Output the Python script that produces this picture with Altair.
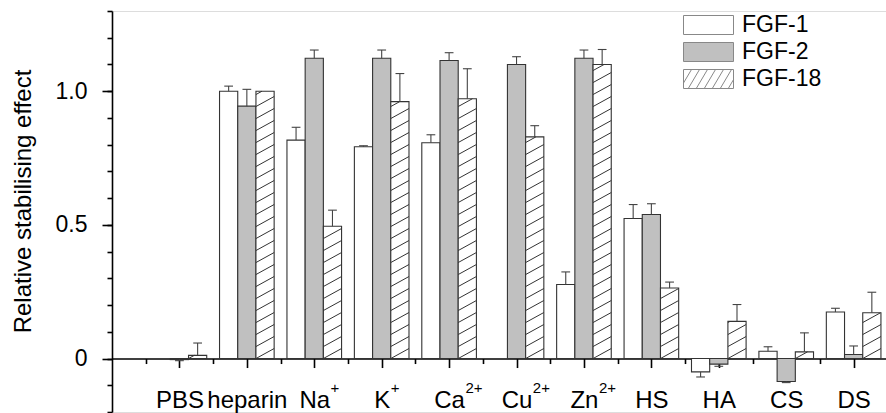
import json
import math

import altair as alt
import pandas as pd

# ---- data -----------------------------------------------------------------
categories = ["PBS", "heparin", "Na", "K", "Ca", "Cu", "Zn", "HS", "HA", "CS", "DS"]
charges = ["", "", "+", "+", "2+", "2+", "2+", "", "", "", ""]
series = ["FGF-1", "FGF-2", "FGF-18"]

fgf1 = [None, 1.000, 0.817, 0.792, 0.807, None, 0.277, 0.524, -0.050, 0.027, 0.174]
fgf1_err = [None, 0.019, 0.048, 0.004, 0.030, None, 0.047, 0.052, 0.019, 0.017, 0.014]
fgf2 = [-0.004, 0.944, 1.123, 1.123, 1.115, 1.100, 1.123, 0.539, -0.021, -0.086, 0.015]
fgf2_err = [0.004, 0.063, 0.031, 0.031, 0.029, 0.029, 0.031, 0.040, 0.008, 0.004, 0.032]
fgf18 = [0.012, 1.000, 0.495, 0.961, 0.972, 0.829, 1.100, 0.264, 0.139, 0.025, 0.171]
fgf18_err = [0.046, 0.0, 0.060, 0.105, 0.112, 0.042, 0.056, 0.022, 0.063, 0.071, 0.077]

# ---- geometry ---------------------------------------------------------------
WIDTH, HEIGHT = 774, 401
X_DOMAIN = [0, 11.48]
Y_DOMAIN = [-0.2, 1.3]
PX_X = WIDTH / (X_DOMAIN[1] - X_DOMAIN[0])
PX_Y = HEIGHT / (Y_DOMAIN[1] - Y_DOMAIN[0])
ZERO_OFFSET = -(Y_DOMAIN[0] * -PX_Y)  # axis pulled up to the y = 0 line
BAR_W = 0.27
CAP_W = 0.13
FONT = "Liberation Sans"

values = {"FGF-1": (fgf1, fgf1_err), "FGF-2": (fgf2, fgf2_err), "FGF-18": (fgf18, fgf18_err)}

rows = []
for i, cat in enumerate(categories):
    for j, name in enumerate(series):
        v, e = values[name][0][i], values[name][1][i]
        if v is None:
            continue
        c = i + 1 + (j - 1) * BAR_W
        sign = 1 if v >= 0 else -1
        rows.append(dict(category=cat, series=name, x0=c - BAR_W / 2, x1=c + BAR_W / 2,
                         xc=c, value=v, err=e, tip=v + sign * e,
                         cap0=c - CAP_W / 2, cap1=c + CAP_W / 2))
bars = pd.DataFrame(rows)
errs = bars[bars["err"] > 0]

# diagonal hatching for the FGF-18 bars, worked out in pixels then mapped back
SLOPE, GAP = 0.55, 12.0
hatch = []
for _, r in bars[bars["series"] == "FGF-18"].iterrows():
    w = BAR_W * PX_X
    h = r["value"] * PX_Y
    k = math.floor(-SLOPE * w / GAP)
    while k * GAP < h:
        c = k * GAP
        xa = max(0.0, -c / SLOPE)
        xb = min(w, (h - c) / SLOPE)
        if xb > xa:
            hatch.append(dict(hx0=r["x0"] + xa / PX_X, hy0=(SLOPE * xa + c) / PX_Y,
                              hx1=r["x0"] + xb / PX_X, hy1=(SLOPE * xb + c) / PX_Y))
        k += 1
hatch = pd.DataFrame(hatch)

# superscript charges sit just right of each centred label
ADV = {"N": .722, "a": .556, "K": .667, "C": .722, "u": .556, "Z": .611, "n": .556}
LABEL_SIZE = 24
sup = pd.DataFrame([
    dict(sx=i + 1 + (sum(ADV[ch] for ch in cat) * LABEL_SIZE / 2 + 1) / PX_X, charge=q)
    for i, (cat, q) in enumerate(zip(categories, charges)) if q
])

# legend symbols: plain boxes, and a box with hatching
BOX = "M-1,-0.38H1V0.38H-1Z"
hatch_path = BOX
a = -1.45
while a < 1:
    t0 = max(0.0, (-1 - a) / 0.45)
    t1 = min(1.0, (1 - a) / 0.45)
    if t1 > t0:
        hatch_path += (f"M{a + 0.45 * t0:.3f},{0.38 - 0.76 * t0:.3f}"
                       f"L{a + 0.45 * t1:.3f},{0.38 - 0.76 * t1:.3f}")
    a += 0.32

# ---- scales & axes --------------------------------------------------------
xs = alt.Scale(domain=X_DOMAIN, nice=False, zero=False)
ys = alt.Scale(domain=Y_DOMAIN, nice=False, zero=False)
fill_scale = alt.Scale(domain=series, range=["#ffffff", "#c0c0c0", "#ffffff"])
shape_scale = alt.Scale(domain=series, range=[BOX, BOX, hatch_path])

x_major = alt.Axis(
    values=list(range(1, len(categories) + 1)),
    labelExpr=f"{json.dumps([''] + categories)}[datum.value]",
    orient="bottom", offset=ZERO_OFFSET, title=None, grid=False,
    tickSize=9, tickWidth=1.6, tickColor="black", domainColor="black", domainWidth=1.6,
    labelFont=FONT, labelFontSize=LABEL_SIZE, labelColor="black", labelPadding=21,
    labelFlush=False, labelOverlap=False,
)
x_minor = alt.Axis(
    values=[i + 0.5 for i in range(len(categories) + 1)],
    orient="bottom", offset=ZERO_OFFSET, title=None, grid=False, labels=False,
    domain=False, tickSize=5, tickWidth=1.6, tickColor="black",
)
y_major = alt.Axis(
    values=[0, 0.5, 1.0], orient="left", grid=False,
    labelExpr="datum.value == 0 ? '0' : format(datum.value, '.1f')",
    tickSize=10, tickWidth=1.6, tickColor="black", domainColor="black", domainWidth=1.6,
    labelFont=FONT, labelFontSize=23, labelColor="black", labelPadding=15,
    title="Relative stabilising effect", titleFont=FONT, titleFontSize=24,
    titleFontWeight="normal", titleColor="black", titleX=-89, titleY=190,
    titleBaseline="middle", titleAngle=-90,
)
y_minor = alt.Axis(
    values=[round(-0.2 + 0.1 * i, 1) for i in range(16)], orient="left",
    grid=False, labels=False, domain=False, title=None,
    tickSize=5, tickWidth=1.6, tickColor="black",
)

legend = alt.Legend(
    title=None, orient="none", legendX=571, legendY=4, padding=0,
    clipHeight=20, rowPadding=4, labelOffset=8, symbolSize=2500,
    symbolStrokeColor="#888888", symbolStrokeWidth=1,
    labelFont=FONT, labelFontSize=23, labelColor="black",
)

# ---- layers ---------------------------------------------------------------
bar_layer = alt.Chart(bars).mark_rect(stroke="#333333", strokeWidth=1.1).encode(
    x=alt.X("x0:Q", scale=xs, axis=x_major),
    x2="x1:Q",
    y=alt.Y("value:Q", scale=ys, axis=y_major),
    y2=alt.Y2(datum=0),
    fill=alt.Fill("series:N", scale=fill_scale, legend=legend),
)

hatch_layer = alt.Chart(hatch).mark_rule(color="#333333", strokeWidth=1).encode(
    x=alt.X("hx0:Q", scale=xs, axis=None),
    x2="hx1:Q",
    y=alt.Y("hy0:Q", scale=ys, axis=None),
    y2="hy1:Q",
)

stem_layer = alt.Chart(errs).mark_rule(color="#444444", strokeWidth=1.1).encode(
    x=alt.X("xc:Q", scale=xs, axis=x_minor),
    y=alt.Y("value:Q", scale=ys, axis=y_minor),
    y2="tip:Q",
)

cap_layer = alt.Chart(errs).mark_rule(color="#444444", strokeWidth=1.1).encode(
    x=alt.X("cap0:Q", scale=xs, axis=None),
    x2="cap1:Q",
    y=alt.Y("tip:Q", scale=ys, axis=None),
)

sup_layer = alt.Chart(sup).mark_text(
    font=FONT, fontSize=15, color="black", align="left", baseline="alphabetic", dy=34,
).encode(
    x=alt.X("sx:Q", scale=xs, axis=None),
    y=alt.Y(datum=0, scale=ys, axis=None),
    text="charge:N",
)

# carries the shape scale so the legend shows the hatched swatch
key_layer = alt.Chart(bars).mark_point(filled=True, opacity=1).encode(
    x=alt.X("xc:Q", scale=xs, axis=None),
    y=alt.Y("value:Q", scale=ys, axis=None),
    fill=alt.Fill("series:N", scale=fill_scale, legend=legend),
    shape=alt.Shape("series:N", scale=shape_scale, legend=legend),
).transform_filter("datum.series == 'none'")

chart = alt.layer(
    bar_layer, hatch_layer, stem_layer, cap_layer, sup_layer, key_layer
).resolve_axis(
    x="independent", y="independent"
).properties(
    width=WIDTH, height=HEIGHT,
    autosize=alt.AutoSizeParams(type="none"),
    padding={"left": 112, "top": 11, "right": 0, "bottom": 1},
).configure_view(stroke=None).configure(background="white")

chart.save("out.html", embed_options={"renderer": "svg", "actions": False})
